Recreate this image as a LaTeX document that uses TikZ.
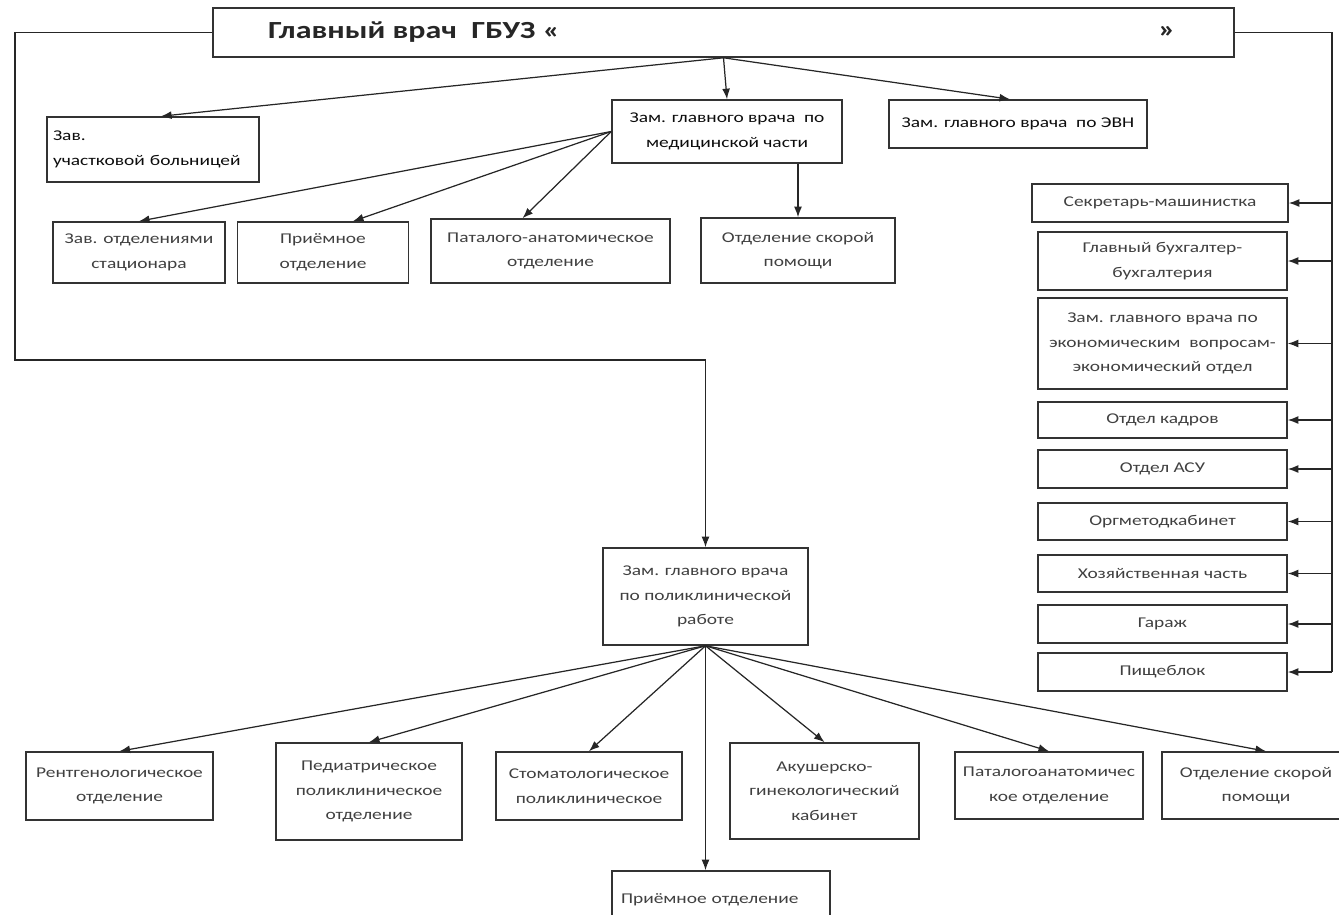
\documentclass[tikz,border=0pt]{standalone}
\usepackage{fontspec}
\setmainfont[FakeStretch=1.3]{Carlito}
\usetikzlibrary{arrows.meta}

\begin{document}
\begin{tikzpicture}[x=0.02cm, y=-0.02cm,
    box/.style={draw=black!80, line width=0.9pt, inner sep=1pt, align=center,
        font=\fontsize{8.5}{14}\selectfont, text=black!75},
    dark/.style={text=black!95},
    link/.style={draw=black!85, line width=0.7pt, -{Latex[length=6pt,width=4.5pt]}}]
    \useasboundingbox (0,0) rectangle (1339,914);
    \clip (0,0) rectangle (1339,914);

    % head
    \node[box, minimum width=20.42cm, minimum height=0.98cm] (glav) at (723.5,32.5) {};
    \node[anchor=west, font=\fontsize{14}{16}\selectfont\bfseries, text=black!85] (glavtxt) at (262,32) {Главный врач~~ГБУЗ «};
    \node[font=\fontsize{14}{16}\selectfont\bfseries, text=black!85] (glavend) at (1167,32) {»};

    % upper row
    \node[box, dark, minimum width=4.24cm, minimum height=1.3cm, text width=4cm, align=left] (uch) at (153,149.5) {Зав.\\участковой больницей};
    \node[box, dark, minimum width=4.6cm, minimum height=1.26cm] (med) at (727,131.5) {Зам. главного врача~~по\\медицинской части};
    \node[box, dark, minimum width=5.16cm, minimum height=0.96cm] (evn) at (1018,124) {Зам. главного врача~~по ЭВН};

    \node[box, minimum width=3.44cm, minimum height=1.22cm] (stac) at (139,252.5) {Зав. отделениями\\стационара};
    \node[box, minimum width=3.42cm, minimum height=1.22cm] (priem1) at (323,252.5) {Приёмное\\отделение};
    \node[box, minimum width=4.78cm, minimum height=1.28cm] (pat1) at (550.5,251) {Паталого-анатомическое\\отделение};
    \node[box, minimum width=3.88cm, minimum height=1.3cm] (skor1) at (798,250.5) {Отделение скорой\\помощи};

    % right column
    \node[box, minimum width=5.12cm, minimum height=0.76cm] (sekr) at (1160,203) {Секретарь-машинистка};
    \node[box, minimum width=4.98cm, minimum height=1.16cm] (buh) at (1162.5,261) {Главный бухгалтер-\\бухгалтерия};
    \node[box, minimum width=4.98cm, minimum height=1.82cm] (econ) at (1162.5,343.5) {Зам. главного врача по\\экономическим~~вопросам-\\экономический отдел};
    \node[box, minimum width=4.98cm, minimum height=0.72cm] (kadr) at (1162.5,420) {Отдел кадров};
    \node[box, minimum width=4.98cm, minimum height=0.76cm] (asu) at (1162.5,469) {Отдел АСУ};
    \node[box, minimum width=4.98cm, minimum height=0.74cm] (org) at (1162.5,521.5) {Оргметодкабинет};
    \node[box, minimum width=4.98cm, minimum height=0.74cm] (hoz) at (1162.5,573.5) {Хозяйственная часть};
    \node[box, minimum width=4.98cm, minimum height=0.76cm] (gar) at (1162.5,624) {Гараж};
    \node[box, minimum width=4.98cm, minimum height=0.76cm] (pish) at (1162.5,672) {Пищеблок};

    % polyclinic
    \node[box, minimum width=4.1cm, minimum height=1.94cm] (pol) at (705.5,596.5) {Зам. главного врача\\по поликлинической\\работе};

    \node[box, minimum width=3.74cm, minimum height=1.36cm] (rent) at (119.5,786) {Рентгенологическое\\отделение};
    \node[box, minimum width=3.72cm, minimum height=1.94cm] (ped) at (369,791.5) {Педиатрическое\\поликлиническое\\отделение};
    \node[box, minimum width=3.72cm, minimum height=1.36cm] (stom) at (589,786) {Стоматологическое\\поликлиническое};
    \node[box, minimum width=3.78cm, minimum height=1.92cm] (akush) at (824.5,791) {Акушерско-\\гинекологический\\кабинет};
    \node[box, minimum width=3.76cm, minimum height=1.34cm] (pat2) at (1049,785.5) {Паталогоанатомичес\\кое отделение};
    \node[box, minimum width=3.76cm, minimum height=1.34cm] (skor2) at (1256,785.5) {Отделение скорой\\помощи};
    \node[box, minimum width=4.36cm, minimum height=1.16cm, text width=4cm, align=left] (priem2) at (721,900) {Приёмное отделение};

    % links from head
    \draw[link] (glav.south) -- ([xshift=0.16cm]uch.north);
    \draw[link] (glav.south) -- (med.north);
    \draw[link] (glav.south) -- ([xshift=-0.16cm]evn.north);

    \draw[link] (med.west) -- (stac.north);
    \draw[link] (med.west) -- ([xshift=0.6cm]priem1.north);
    \draw[link] (med.west) -- ([xshift=-0.56cm]pat1.north);
    \draw[link] (med.south -| skor1.north) -- (skor1.north);

    % left line down to polyclinic
    \coordinate (lbend) at (15,360);
    \draw[link] (glav.west) -| (lbend) -- (pol.north |- lbend) -- (pol.north);

    % right line
    \coordinate (rspine) at (1332,0);
    \draw[draw=black!85, line width=0.7pt] (glav.east) -- (glav.east -| rspine) -- (rspine |- pish.east);
    \foreach \b in {sekr,buh,econ,kadr,asu,org,hoz,gar,pish}
        \draw[link] (rspine |- \b.east) -- (\b.east);

    % polyclinic links
    \foreach \b in {rent,ped,stom,akush,pat2}
        \draw[link] (pol.south) -- (\b.north);
    \draw[link] (pol.south) -- ([xshift=0.2cm]skor2.north);
    \draw[link] (pol.south) -- (pol.south |- priem2.north);
\end{tikzpicture}
\end{document}
